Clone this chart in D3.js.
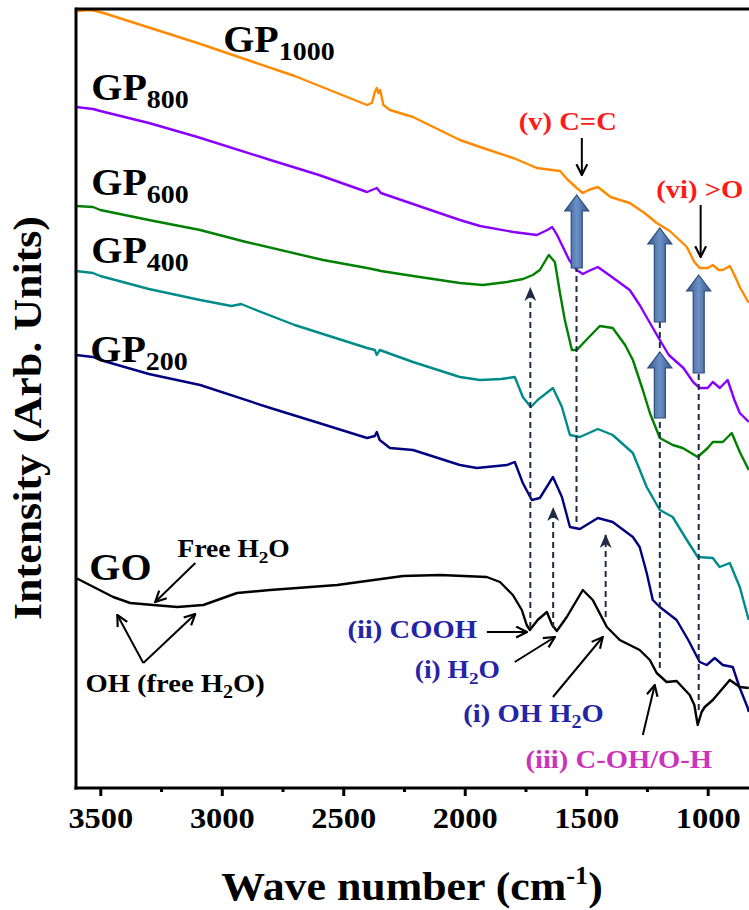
<!DOCTYPE html>
<html><head><meta charset="utf-8">
<script src="https://cdn.jsdelivr.net/npm/d3@7"></script>
<style>
body{margin:0;background:#fff}
text{font-family:"Liberation Serif","Times New Roman",serif;font-weight:bold}
</style>
</head><body>
<svg id="c" width="749" height="910"></svg>
<script>
// ---------- data (wavenumber cm^-1, intensity a.u.) ----------
const majorTicks = [3500, 3000, 2500, 2000, 1500, 1000];
const minorTicks = [3250, 2750, 2250, 1750, 1250];
const seriesNames = ["GP1000", "GP800", "GP600", "GP400", "GP200", "GO"];

const gp1000 = [[3600,777],[3540,778],[3500,776],[3100,745],[2700,712],[2402,683],[2382,685],[2370,696],[2362,700],[2355,695],[2348,698],[2335,683],[2308,678],[2213,671],[2020,648],[1937,641],[1800,630],[1703,620],[1640,618],[1608,617],[1575,608],[1539,600],[1514,595],[1490,598],[1452,601],[1400,591],[1321,585],[1260,575],[1210,565],[1156,557],[1086,541],[1055,526],[1033,520],[1000,520],[979,523],[955,518],[938,518],[909,522],[890,513],[868,501],[831,485]];

const gp800 = [[3600,681],[3530,679],[3500,677],[3300,665],[3100,651],[2800,628],[2600,613],[2402,596],[2362,600],[2345,595],[2213,584],[2020,568],[1937,562],[1800,556],[1703,553],[1660,558],[1640,561],[1620,553],[1600,543],[1570,528],[1539,518],[1514,514],[1490,517],[1452,521],[1400,512],[1321,498],[1280,483],[1240,466],[1197,448],[1160,433],[1100,420],[1060,406],[1033,400],[1000,400],[979,406],[950,400],[918,408],[890,388],[868,375],[831,366]];

const gp600 = [[3600,582],[3530,581],[3500,578],[3300,568],[3089,558],[2900,546],[2583,528],[2402,520],[2362,518],[2345,517],[2213,512],[2020,505],[1925,503],[1826,506],[1760,509],[1720,513],[1691,518],[1654,533],[1629,526],[1608,495],[1588,468],[1559,438],[1539,438],[1500,448],[1444,462],[1391,460],[1340,443],[1308,428],[1267,398],[1238,375],[1197,350],[1144,343],[1103,340],[1041,331],[1000,340],[979,346],[938,346],[901,355],[868,336],[835,320],[831,318]];

const gp400 = [[3600,517],[3530,515],[3500,512],[3300,499],[3089,488],[2960,482],[2920,484],[2880,480],[2700,463],[2402,440],[2370,438],[2362,433],[2350,438],[2213,426],[2020,411],[1937,408],[1850,409],[1794,411],[1761,391],[1728,381],[1700,388],[1637,400],[1600,381],[1567,353],[1526,351],[1452,359],[1391,353],[1308,335],[1251,301],[1197,278],[1144,271],[1086,248],[1041,231],[979,230],[951,221],[909,225],[868,201],[840,176],[831,168]];

const gp200 = [[3600,433],[3530,431],[3500,428],[3300,414],[3089,403],[2800,380],[2600,365],[2402,350],[2370,352],[2362,356],[2350,348],[2308,340],[2213,338],[2020,323],[1950,320],[1826,323],[1794,326],[1761,305],[1724,288],[1691,290],[1637,311],[1600,291],[1567,261],[1526,259],[1452,270],[1391,266],[1308,251],[1280,241],[1251,215],[1226,188],[1197,181],[1128,168],[1080,148],[1033,126],[1004,123],[971,130],[938,123],[897,121],[868,100],[835,80],[831,76]];

const go = [[3600,210],[3447,191],[3377,185],[3282,183],[3183,181],[3076,183],[2937,195],[2801,198],[2525,203],[2254,212],[2102,213],[1909,211],[1855,206],[1802,193],[1765,178],[1745,163],[1732,158],[1700,168],[1662,176],[1640,163],[1621,157],[1580,171],[1514,198],[1473,188],[1415,161],[1362,148],[1280,138],[1238,128],[1210,115],[1169,106],[1128,107],[1074,93],[1055,83],[1041,63],[1025,76],[1012,81],[979,88],[909,108],[868,101],[831,100]];

const seriesData = [gp1000, gp800, gp600, gp400, gp200, go];

// series labels: name, subscript, anchor wavenumber, intensity
const seriesLabels = [
  ["GP","1000",2994,736],["GP","800",3537,688],["GP","600",3537,593],
  ["GP","400",3537,525],["GP","200",3541,426],["GO","",3545,208]
];

// band annotations: text parts, wavenumber, intensity, group
const bandLabels = [
  {parts:[["Free H","n"],["2","sub"],["O","n"]], w:2951, v:231, group:"plain", anchor:"middle", size:25},
  {parts:[["OH (free H","n"],["2","sub"],["O)","n"]], w:3192, v:96, group:"plain", anchor:"middle", size:26},
  {parts:[["(ii) COOH","n"]], w:1950, v:150, group:"blue", anchor:"end", size:26},
  {parts:[["(i) H","n"],["2","sub"],["O","n"]], w:1855, v:110, group:"blue", anchor:"end", size:25},
  {parts:[["(i) OH H","n"],["2","sub"],["O","n"]], w:1717, v:66, group:"blue", anchor:"middle", size:26},
  {parts:[["(iii) C-OH/O-H","n"]], w:1366, v:20, group:"magenta", anchor:"middle", size:26},
  {parts:[["(v) C=C","n"]], w:1576, v:658, group:"red", anchor:"middle", size:26},
  {parts:[["(vi) >O","n"]], w:1033, v:590, group:"red", anchor:"middle", size:26}
];

// pointer arrows: from (w,v) to (w,v)
const pointerArrows = [
  [3109,225,3274,186],[3323,125,3430,173],[3323,125,3109,174],
  [1909,156,1744,156],[1794,126,1629,151],[1637,91,1432,151],
  [1267,53,1218,103],[1518,650,1518,613],[1029,583,1029,531]
];
// block arrows: wavenumber, tip intensity, base intensity
const blockArrows = [[1539,593,520],[1197,560,466],[1197,436,370],[1037,513,415]];
// dashed guides: wavenumber, from, to, arrowhead
const dashedGuides = [[1730,160,500,true],[1636,160,280,true],[1540,266,520,false],[1420,171,253,true],[1197,120,466,false],[1037,78,415,false]];

// ---------- drawing ----------
const colors = ["#ff8a00","#8a00ff","#008000","#008b8b","#000080","#000000"];
const groupColors = {plain:"#000", blue:"#2424a6", magenta:"#cc33bb", red:"#ff1a1a"};
const W = 749, H = 910;
const pLeft = 76, pRight = 749, pTop = 9, pBottom = 788;
const x = d3.scaleLinear().domain([3600, 830]).range([pLeft, pRight]);
const y = d3.scaleLinear().domain([0, 779]).range([pBottom, pTop]);

const svg = d3.select("#c");
svg.append("rect").attr("width", W).attr("height", H).attr("fill", "#fff");
const defs = svg.append("defs");
defs.append("clipPath").attr("id","clip").append("rect")
  .attr("x", pLeft).attr("y", pTop).attr("width", pRight-pLeft).attr("height", pBottom-pTop);
defs.append("marker").attr("id","chev").attr("viewBox","0 0 12 12").attr("refX",11).attr("refY",6)
  .attr("markerWidth",13).attr("markerHeight",13).attr("markerUnits","userSpaceOnUse").attr("orient","auto")
  .append("path").attr("d","M1,1 L11,6 L1,11").attr("fill","none").attr("stroke","#000").attr("stroke-width",2);
defs.append("marker").attr("id","dhead").attr("viewBox","0 0 14 12").attr("refX",13).attr("refY",6)
  .attr("markerWidth",14).attr("markerHeight",12).attr("markerUnits","userSpaceOnUse").attr("orient","auto")
  .append("path").attr("d","M0,0 L14,6 L0,12 L4,6 Z").attr("fill","#1e2b45");
const grad = defs.append("linearGradient").attr("id","blk").attr("x1","0").attr("x2","1").attr("y1","0").attr("y2","0");
grad.append("stop").attr("offset","0").attr("stop-color","#38598a");
grad.append("stop").attr("offset","0.5").attr("stop-color","#6a90c6");
grad.append("stop").attr("offset","1").attr("stop-color","#38598a");

// curves
const line = d3.line().x(d => x(d[0])).y(d => y(d[1]));
const cg = svg.append("g").attr("clip-path","url(#clip)");
seriesData.forEach((s, i) => {
  cg.append("path").datum(s).attr("d", line).attr("fill","none")
    .attr("stroke", colors[i]).attr("stroke-width", 2.4).attr("stroke-linejoin","round")
    .attr("class", seriesNames[i]);
});

// dashed guides
dashedGuides.forEach(([w, a, b, head]) => {
  const p = svg.append("line").attr("x1", x(w)).attr("x2", x(w)).attr("y1", y(a)).attr("y2", y(b))
    .attr("stroke","#1e2b45").attr("stroke-width",2).attr("stroke-dasharray","6,4");
  if (head) p.attr("marker-end","url(#dhead)");
});

// block arrows
blockArrows.forEach(([w, t, b]) => {
  const cx = x(w), ty = y(t), by = y(b);
  const pts = [[cx,ty],[cx+12,ty+16],[cx+5.5,ty+16],[cx+5.5,by],[cx-5.5,by],[cx-5.5,ty+16],[cx-12,ty+16]];
  svg.append("polygon").attr("points", pts.map(p => p.join(",")).join(" "))
    .attr("fill","url(#blk)").attr("stroke","#2d4c7a").attr("stroke-width",1.2);
});

// pointer arrows
pointerArrows.forEach(([w1,v1,w2,v2]) => {
  svg.append("line").attr("x1",x(w1)).attr("y1",y(v1)).attr("x2",x(w2)).attr("y2",y(v2))
    .attr("stroke","#000").attr("stroke-width",2).attr("marker-end","url(#chev)");
});

// text helper
function drawText(parts, px, py, size, color, anchor, sx) {
  const t = svg.append("text").attr("transform", `translate(${px},${py}) scale(${sx},1)`)
    .attr("font-size", size).attr("fill", color).attr("text-anchor", anchor);
  let off = 0;
  parts.forEach(([s, k]) => {
    const target = k === "sub" ? 0.22*size : k === "sup" ? -0.38*size : 0;
    const ts = t.append("tspan").text(s).attr("dy", target - off);
    if (k === "sub") ts.attr("font-size", size*0.7);
    if (k === "sup") ts.attr("font-size", size*0.6);
    off = target;
  });
  return t;
}

seriesLabels.forEach(([n, sub, w, v]) => {
  const parts = sub ? [[n,"n"],[sub,"sub"]] : [[n,"n"]];
  drawText(parts, x(w), y(v), 37, "#000", "start", 1.08);
});
bandLabels.forEach(l => {
  drawText(l.parts, x(l.w), y(l.v), l.size, groupColors[l.group], l.anchor, 1.1);
});

// axes frame
svg.append("line").attr("x1",pLeft).attr("x2",pRight).attr("y1",pTop).attr("y2",pTop).attr("stroke","#000").attr("stroke-width",3);
svg.append("line").attr("x1",pLeft).attr("x2",pLeft).attr("y1",pTop-1.5).attr("y2",pBottom+1.5).attr("stroke","#000").attr("stroke-width",3);
const ax = svg.append("g").attr("transform",`translate(0,${pBottom})`)
  .call(d3.axisBottom(x).tickValues(majorTicks).tickSize(8).tickFormat(d3.format("d")));
ax.select(".domain").remove();
ax.selectAll(".tick line").attr("stroke","#000").attr("stroke-width",3);
ax.selectAll(".tick text").attr("font-size",30).attr("fill","#000").attr("y",40).attr("dy",0)
  .attr("transform","scale(1.08,1)").style("font-family",'"Liberation Serif","Times New Roman",serif').style("font-weight","bold");
const mx = svg.append("g").attr("transform",`translate(0,${pBottom})`)
  .call(d3.axisBottom(x).tickValues(minorTicks).tickSize(4).tickFormat(""));
mx.select(".domain").remove();
mx.selectAll(".tick line").attr("stroke","#000").attr("stroke-width",3);
svg.append("line").attr("x1",pLeft-1.5).attr("x2",pRight).attr("y1",pBottom).attr("y2",pBottom).attr("stroke","#000").attr("stroke-width",3);

// axis titles
drawText([["Wave number (cm","n"],["-1","sup"],[")","n"]], 412, 900, 41, "#000", "middle", 1.07);
svg.append("text").attr("transform","translate(41,418) rotate(-90)").attr("text-anchor","middle")
  .attr("font-size",40).attr("fill","#000").attr("textLength",404).attr("lengthAdjust","spacingAndGlyphs")
  .text("Intensity (Arb. Units)");
</script>
</body></html>
